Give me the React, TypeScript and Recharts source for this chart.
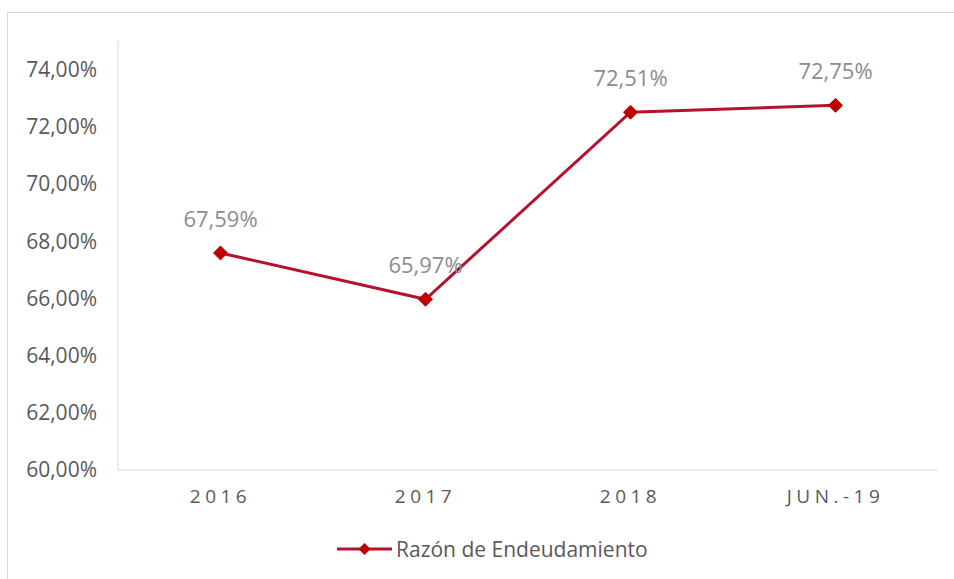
import React from 'react';
import { LineChart, Line, XAxis, YAxis, LabelList } from 'recharts';

const categories = ['2016', '2017', '2018', 'JUN.-19'];
const ratioValues = [67.59, 65.97, 72.51, 72.75];
const yTicks = [60, 62, 64, 66, 68, 70, 72, 74];
const seriesName = 'Razón de Endeudamiento';

const data = categories.map((c, i) => ({ cat: c, v: ratioValues[i] }));

const fmt = (v: number) => v.toFixed(2).replace('.', ',') + '%';

const FONT = '"Open Sans", "Noto Sans", sans-serif';

const Diamond = (props: any) => {
  const { cx, cy } = props;
  if (cx == null || cy == null) return null;
  const r = 7;
  return <path d={`M${cx},${cy - r}L${cx + r},${cy}L${cx},${cy + r}L${cx - r},${cy}Z`} fill="#C00000" stroke="#C00000" />;
};

export default function App() {
  return (
    <div>
      <div style={{ position: 'absolute', left: 7, top: 12, width: 960, height: 580, border: '1px solid #d9d9d9', boxSizing: 'border-box' }} />
      <div style={{ position: 'absolute', left: 0, top: 0 }}>
        <LineChart width={954} height={579} data={data} margin={{ top: 41, right: 16, bottom: 79, left: 0 }}>
          <XAxis
            dataKey="cat"
            height={30}
            axisLine={{ stroke: '#d9d9d9' }}
            tickLine={false}
            tickSize={0}
            tickMargin={20}
            padding={{ left: 102.5, right: 102.5 }}
            tick={{ fill: '#595959', fontSize: 19, fontFamily: FONT, letterSpacing: 4.5 }}
          />
          <YAxis
            domain={[60, 75]}
            ticks={yTicks}
            width={118}
            axisLine={{ stroke: '#d9d9d9' }}
            tickLine={false}
            tickSize={0}
            tickMargin={21}
            tickFormatter={fmt}
            tick={{ fill: '#595959', fontSize: 21, fontFamily: FONT }}
          />
          <Line
            dataKey="v"
            name={seriesName}
            stroke="#B4122E"
            strokeWidth={3}
            dot={<Diamond />}
            activeDot={false}
            isAnimationActive={false}
          >
            <LabelList dataKey="v" position="top" offset={26} formatter={fmt} style={{ fill: '#8c8c8c', fontSize: 22, fontFamily: FONT }} />
          </Line>
        </LineChart>
      </div>
      <div style={{ position: 'absolute', left: 337, top: 535, height: 28, display: 'flex', alignItems: 'center', fontFamily: FONT, fontSize: 21, color: '#595959', whiteSpace: 'nowrap' }}>
        <svg width={55} height={14} style={{ marginRight: 4 }}>
          <line x1={0} y1={7} x2={55} y2={7} stroke="#B4122E" strokeWidth={3} />
          <path d="M27.5,1L33.5,7L27.5,13L21.5,7Z" fill="#C00000" />
        </svg>
        <span>{seriesName}</span>
      </div>
    </div>
  );
}
